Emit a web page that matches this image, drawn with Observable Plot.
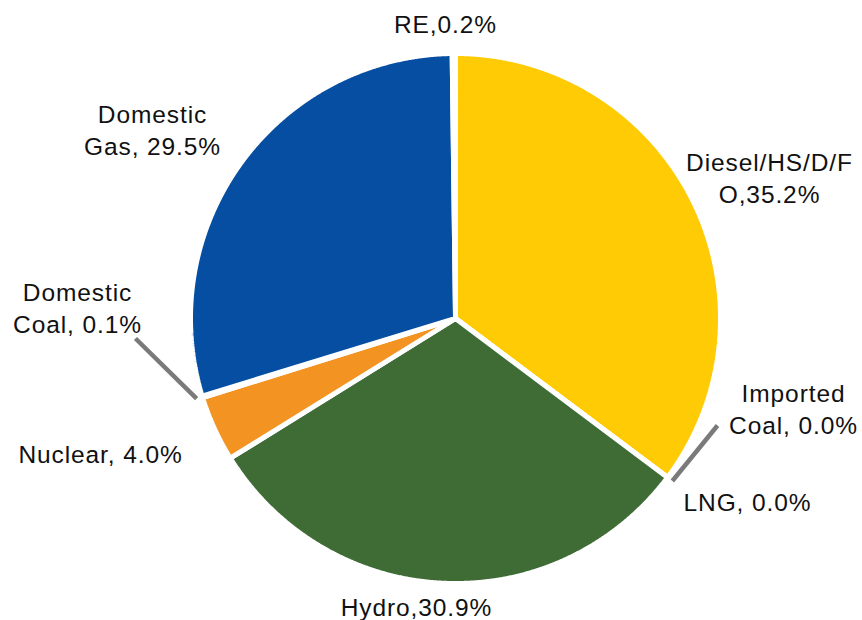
<!DOCTYPE html>
<html>
<head>
<meta charset="utf-8">
<script src="https://cdn.jsdelivr.net/npm/d3@7"></script>
<script src="https://cdn.jsdelivr.net/npm/@observablehq/plot@0.6"></script>
<style>
  body { margin: 0; background: #fff; }
  #chart text { letter-spacing: 0.9px; }
</style>
</head>
<body>
<div id="chart"></div>
<script>
// Generation mix by fuel source, clockwise from 12 o'clock
const sources = ["Diesel/HS/D/F O", "Imported Coal", "LNG", "Hydro", "Nuclear", "Domestic Coal", "Domestic Gas", "RE"];
const shares = [35.2, 0.0, 0.0, 30.9, 4.0, 0.1, 29.5, 0.2];
const labels = ["Diesel/HS/D/F\nO,35.2%", "Imported\nCoal, 0.0%", "LNG, 0.0%", "Hydro,30.9%", "Nuclear, 4.0%", "Domestic\nCoal, 0.1%", "Domestic\nGas, 29.5%", "RE,0.2%"];
const colors = ["#FFCB05", "#FFCB05", "#FFCB05", "#3F6B35", "#F39322", "#F39322", "#064EA2", "#064EA2"];

// Layout (pixels, relative to the pie centre)
const W = 862, H = 620, CX = 455, CY = 318, R = 265;
const labelDX = [314, 338, 292, -39, -355, -378, -303, -10];
const labelDY = [-142, 89, 182, 287, 134, -12, -190, -296];
// leader lines for the slivers: [source index, end dx, end dy]
const leaders = [[1, 262, 107], [5, -320, 20]];

const arcs = d3.pie().sort(null).value(d => d)(shares);

// polygon outline for each slice: centre -> arc -> centre
const slicePts = [];
arcs.forEach((a, i) => {
  slicePts.push({source: sources[i], x: 0, y: 0});
  const n = Math.max(2, Math.ceil((a.endAngle - a.startAngle) / 0.004));
  for (let k = 0; k <= n; k++) {
    const t = a.startAngle + (a.endAngle - a.startAngle) * k / n;
    slicePts.push({source: sources[i], x: R * Math.sin(t), y: -R * Math.cos(t)});
  }
  slicePts.push({source: sources[i], x: 0, y: 0});
});

const leaderRows = leaders.map(([i, ex, ey]) => {
  const t = (arcs[i].startAngle + arcs[i].endAngle) / 2;
  return {x1: (R + 6) * Math.sin(t), y1: -(R + 6) * Math.cos(t), x2: ex, y2: ey};
});

const labelRows = labels.map((text, i) => ({text, x: labelDX[i], y: labelDY[i]}));

const chart = Plot.plot({
  width: W,
  height: H,
  margin: 0,
  style: {background: "#fff", fontFamily: "'Liberation Sans', Arial, Helvetica, sans-serif"},
  x: {domain: [-CX, W - CX], range: [0, W], axis: null},
  y: {domain: [-CY, H - CY], range: [0, H], axis: null},
  color: {domain: sources, range: colors},
  marks: [
    Plot.line(slicePts, {x: "x", y: "y", z: "source", fill: "source", stroke: "white", strokeWidth: 5, strokeLinejoin: "miter", curve: "linear"}),
    Plot.link(leaderRows, {x1: "x1", y1: "y1", x2: "x2", y2: "y2", stroke: "#7a7a7a", strokeWidth: 4.5, strokeLinecap: "butt"}),
    Plot.text(labelRows, {x: "x", y: "y", text: "text", fontSize: 24.5, lineHeight: 1.33, fill: "#111", textAnchor: "middle"})
  ]
});

document.getElementById("chart").appendChild(chart);
</script>
</body>
</html>
